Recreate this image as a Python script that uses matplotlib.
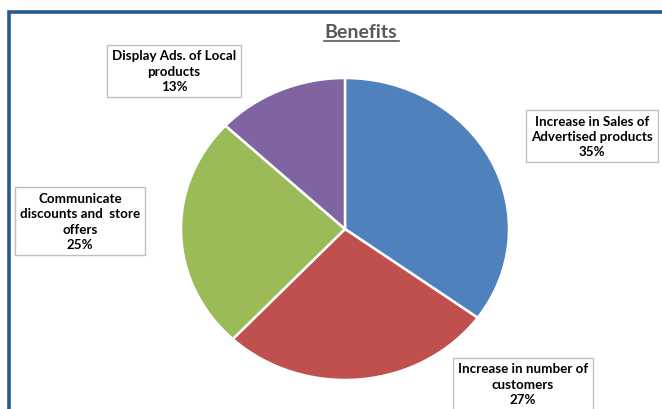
import matplotlib
matplotlib.use("Agg")
import matplotlib.pyplot as plt
from matplotlib.patches import Rectangle
from matplotlib.lines import Line2D

categories = ["Increase in Sales of\nAdvertised products",
              "Increase in number of\ncustomers",
              "Communicate\ndiscounts and  store\noffers",
              "Display Ads. of Local\nproducts"]
values = [35, 27, 25, 13]
colors = ["#4F81BD", "#C0504D", "#9BBB59", "#8064A2"]
title = "Benefits"

W, H = 662, 410
fig = plt.figure(figsize=(W / 100, H / 100), dpi=100)
plt.rcParams['font.family'] = ['Lato', 'DejaVu Sans']

def fx(px):
    return px / W

def fy(py):
    return 1 - py / H

# frame
fig.patches.append(Rectangle((fx(9), fy(430)), fx(700), fy(13) - fy(430),
                             transform=fig.transFigure, fill=False,
                             edgecolor="#245A8D", linewidth=2.6, zorder=0))

# pie axes (slightly elliptical as in reference)
cx, cy, rx, ry = 345, 230, 164, 151
ax = fig.add_axes([fx(cx - rx), fy(cy + ry), 2 * rx / W, 2 * ry / H])
ax.pie(values, colors=colors, startangle=90, counterclock=False,
       wedgeprops=dict(edgecolor="white", linewidth=1.8), radius=1.0)
ax.set_aspect('auto')
ax.set_xlim(-1, 1)
ax.set_ylim(-1, 1)
ax.axis('off')

# title
fig.text(fx(361), fy(32), title, ha="center", va="center", fontsize=14,
         fontweight="bold", color="#595959")
fig.add_artist(Line2D([fx(324), fx(399)], [fy(42), fy(42)],
                      transform=fig.transFigure, color="#595959", linewidth=1.2))

# labels
label_pos = [(592, 137), (523, 385), (80, 222), (174, 72)]
for cat, v, (px, py) in zip(categories, values, label_pos):
    fig.text(fx(px), fy(py), f"{cat}\n{v}%", ha="center", va="center",
             fontsize=9.6, fontweight="bold", color="black", linespacing=1.35,
             bbox=dict(boxstyle="square,pad=0.35", facecolor="white",
                       edgecolor="#BFBFBF", linewidth=1.0))

fig.savefig("out.png", dpi=100)
